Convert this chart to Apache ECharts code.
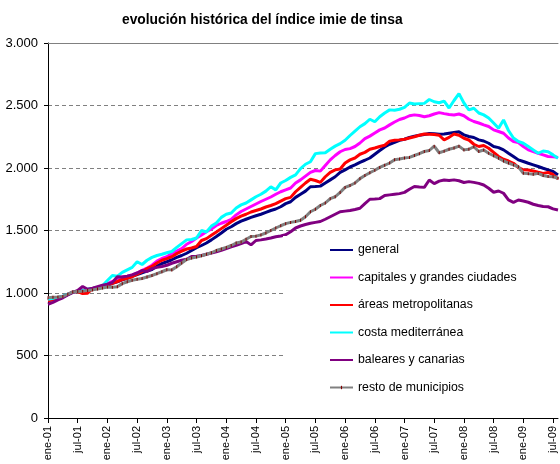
<!DOCTYPE html>
<html>
<head>
<meta charset="utf-8">
<script src="https://cdn.jsdelivr.net/npm/echarts@6/dist/echarts.min.js"></script>
<style>
html,body{margin:0;padding:0;background:#fff;}
#chart{width:560px;height:464px;}
</style>
</head>
<body>
<div id="chart"></div>
<script>
// Category labels (monthly, ene-01 .. ago-09)
var monthNames = ['ene','feb','mar','abr','may','jun','jul','ago','sep','oct','nov','dic'];
var yearLabels = ['01','02','03','04','05','06','07','08','09'];
var monthCount = 104;

var general = [940,948,960,972,988,1005,1012,1018,1025,1034,1042,1050,
1062,1078,1090,1106,1118,1134,1148,1162,1175,1188,1215,1236,
1250,1266,1285,1300,1318,1340,1362,1380,1400,1425,1452,1480,
1510,1530,1555,1575,1590,1605,1618,1630,1645,1660,1672,1690,
1715,1730,1765,1790,1815,1850,1852,1855,1880,1905,1930,1965,
1985,2008,2025,2045,2062,2080,2110,2140,2168,2190,2205,2222,
2230,2245,2255,2262,2268,2276,2275,2270,2272,2278,2284,2290,
2265,2252,2244,2225,2216,2198,2172,2163,2145,2118,2092,2065,
2052,2038,2025,2012,1998,1985,1972,1945];

var capitales = [945,952,962,972,988,1008,1014,1020,1028,1036,1044,1052,
1075,1092,1105,1128,1135,1145,1160,1182,1200,1222,1255,1276,
1290,1316,1335,1355,1390,1412,1440,1465,1490,1512,1540,1558,
1572,1590,1625,1652,1672,1692,1712,1732,1750,1768,1790,1810,
1825,1840,1880,1905,1935,1965,1980,1975,2020,2065,2100,2130,
2148,2155,2172,2200,2235,2255,2280,2305,2320,2345,2368,2388,
2400,2418,2425,2420,2410,2418,2432,2443,2435,2428,2424,2432,
2418,2390,2372,2360,2345,2332,2305,2292,2278,2240,2212,2204,
2172,2145,2132,2118,2105,2092,2090,2085];

var areas = [938,945,958,970,990,1010,1012,995,998,1036,1042,1050,
1065,1078,1092,1108,1118,1130,1150,1170,1195,1212,1240,1262,
1275,1290,1315,1335,1352,1360,1372,1420,1435,1462,1488,1515,
1542,1570,1595,1615,1630,1648,1660,1672,1688,1700,1715,1735,
1755,1765,1810,1845,1880,1910,1900,1885,1930,1965,1985,1992,
2040,2065,2080,2110,2125,2150,2160,2172,2182,2215,2222,2225,
2230,2240,2250,2262,2272,2270,2268,2262,2225,2245,2272,2262,
2238,2224,2190,2172,2180,2158,2125,2092,2070,2056,2038,2004,
1985,1984,1976,1966,1957,1965,1948,1912];

var costa = [950,958,965,975,990,1008,1015,1020,1030,1037,1045,1058,
1100,1140,1135,1165,1185,1205,1250,1228,1262,1285,1300,1310,
1322,1332,1365,1395,1425,1428,1440,1500,1488,1535,1560,1605,
1630,1640,1680,1705,1720,1745,1770,1790,1815,1850,1825,1880,
1900,1925,1945,1995,2030,2050,2115,2120,2122,2150,2175,2195,
2222,2260,2295,2330,2355,2390,2370,2410,2440,2465,2462,2470,
2485,2520,2512,2515,2517,2548,2530,2522,2535,2480,2540,2595,
2520,2465,2478,2440,2425,2400,2360,2318,2384,2300,2240,2212,
2198,2172,2145,2118,2136,2130,2105,2078];

var baleares = [910,925,945,962,985,1005,1020,1052,1030,1038,1050,1062,
1070,1085,1130,1128,1135,1145,1160,1180,1172,1195,1205,1212,
1222,1238,1250,1262,1270,1292,1295,1300,1310,1320,1330,1342,
1356,1370,1382,1395,1412,1385,1420,1425,1432,1440,1450,1456,
1466,1490,1520,1536,1548,1558,1565,1572,1590,1610,1630,1650,
1655,1660,1668,1678,1715,1750,1752,1755,1780,1785,1790,1795,
1805,1830,1852,1848,1845,1904,1875,1895,1904,1900,1905,1898,
1884,1891,1885,1877,1864,1838,1806,1816,1798,1745,1725,1744,
1736,1726,1710,1700,1692,1690,1673,1664];

var resto = [962,966,968,972,990,1008,1012,1015,1020,1025,1032,1040,
1048,1046,1050,1075,1090,1102,1110,1116,1128,1140,1155,1170,
1186,1185,1210,1240,1268,1280,1288,1298,1310,1322,1340,1352,
1365,1380,1400,1408,1430,1452,1455,1465,1480,1500,1520,1538,
1555,1565,1572,1582,1610,1650,1670,1700,1720,1755,1770,1805,
1845,1860,1880,1915,1940,1962,1982,2005,2022,2040,2066,2072,
2080,2085,2100,2115,2132,2140,2175,2122,2135,2150,2160,2175,
2145,2150,2170,2132,2144,2118,2098,2078,2056,2040,2025,2010,
1958,1955,1950,1957,1940,1932,1930,1918];

var seriesNames = ['general','capitales y grandes ciudades','áreas metropolitanas','costa mediterránea','baleares y canarias','resto de municipios'];
var seriesColors = ['#000080','#FF00FF','#FF0000','#00FFFF','#800080','#808080'];
var titleText = 'evolución histórica del índice imie de tinsa';

var categories = [];
for (var i = 0; i < monthCount; i++) {
  categories.push(monthNames[i % 12] + '-' + yearLabels[Math.floor(i / 12)]);
}

var font = 'Arial, "Liberation Sans", sans-serif';
function fmt(v) {
  if (v >= 1000) {
    var r = String(v % 1000);
    while (r.length < 3) r = '0' + r;
    return Math.floor(v / 1000) + '.' + r;
  }
  return String(v);
}

// small vertical tick inside a 10x10 box (moveTo points set the box)
var tickSymbol = 'path://M0 0M10 10M4.5 3.5L5.5 3.5L5.5 6.5L4.5 6.5Z';

var dataSets = [general, capitales, areas, costa, baleares, resto];
var series = dataSets.map(function (d, k) {
  var s = {
    name: seriesNames[k],
    type: 'line',
    data: d,
    xAxisIndex: 0,
    yAxisIndex: 0,
    symbol: 'none',
    showSymbol: false,
    smooth: false,
    lineStyle: { color: seriesColors[k], width: 3 },
    itemStyle: { color: seriesColors[k] },
    emphasis: { disabled: true },
    z: 2 + k * 0.01
  };
  if (k === 5) {
    s.symbol = tickSymbol;
    s.symbolSize = 10;
    s.showSymbol = true;
    s.showAllSymbol = true;
    s.itemStyle = { color: '#800000' };
  }
  return s;
});

var legendData = seriesNames.map(function (n, k) {
  return k === 5 ? { name: n } : { name: n, itemStyle: { opacity: 0 } };
});

var chart = echarts.init(document.getElementById('chart'), null, { renderer: 'canvas' });
chart.setOption({
  animation: false,
  backgroundColor: '#ffffff',
  title: {
    text: titleText,
    left: 117,
    top: 8,
    textStyle: { fontFamily: font, fontSize: 13.8, fontWeight: 'bold', color: '#000' }
  },
  grid: { left: 48, right: 2, top: 43, bottom: 46 },
  legend: {
    orient: 'vertical',
    left: 283,
    top: 236,
    padding: [8, 40, 8, 46],
    backgroundColor: '#ffffff',
    itemWidth: 23,
    itemHeight: 14,
    itemGap: 15.5,
    z: 10,
    selectedMode: false,
    textStyle: { fontFamily: font, fontSize: 12.3, color: '#000' },
    data: legendData
  },
  xAxis: [{
    type: 'category',
    data: categories,
    boundaryGap: false,
    axisLine: { lineStyle: { color: '#000', width: 1 } },
    axisTick: { interval: 5, length: 5, lineStyle: { color: '#000' } },
    axisLabel: { interval: 5, rotate: 90, margin: 8, fontFamily: font, fontSize: 11, color: '#000' },
    splitLine: { show: false }
  }, {
    type: 'category',
    data: categories,
    position: 'top',
    boundaryGap: false,
    axisLine: { lineStyle: { color: '#808080', width: 1 } },
    axisTick: { show: false },
    axisLabel: { show: false },
    splitLine: { show: false }
  }],
  yAxis: {
    type: 'value',
    min: 0,
    max: 3000,
    interval: 500,
    axisLine: { show: true, lineStyle: { color: '#000', width: 1 } },
    axisTick: { show: true, length: 4, lineStyle: { color: '#000' } },
    axisLabel: { margin: 10, fontFamily: font, fontSize: 13, color: '#000', formatter: fmt },
    splitLine: { show: true, lineStyle: { color: '#808080', type: [4, 3], width: 1 } }
  },
  series: series
});
</script>
</body>
</html>
